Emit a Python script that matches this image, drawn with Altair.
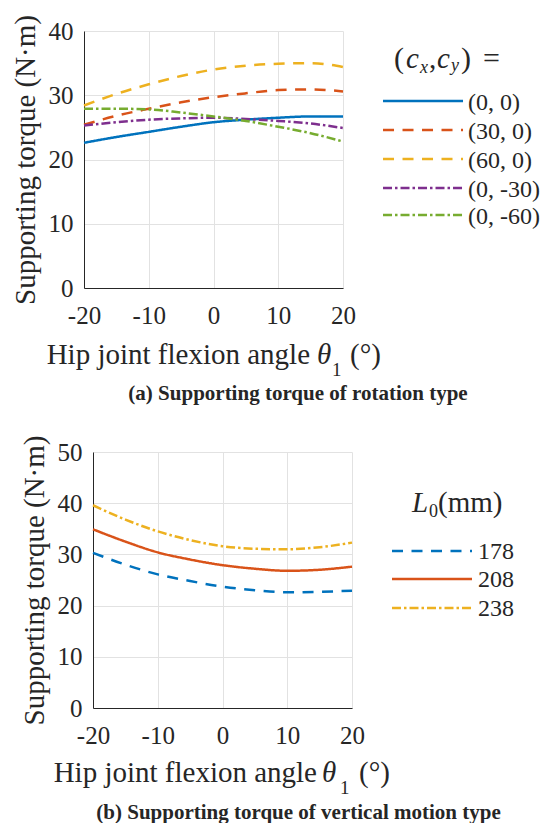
import altair as alt
import pandas as pd

# ---------------- data ----------------
angles = [-20, -15, -10, -5, 0, 5, 10, 15, 20]

rot_names = ["(0, 0)", "(30, 0)", "(60, 0)", "(0, -30)", "(0, -60)"]
rot_00 = [22.6, 23.5, 24.3, 25.1, 25.8, 26.2, 26.5, 26.7, 26.7]
rot_30_0 = [25.4, 26.8, 27.9, 28.9, 29.7, 30.3, 30.8, 30.9, 30.6]
rot_60_0 = [28.4, 30.2, 31.7, 33.0, 34.0, 34.6, 34.9, 35.0, 34.4]
rot_0_m30 = [25.3, 25.8, 26.2, 26.4, 26.5, 26.3, 26.0, 25.6, 24.9]
rot_0_m60 = [27.9, 27.9, 27.8, 27.3, 26.7, 26.0, 25.1, 24.1, 22.8]
rot_series = [rot_00, rot_30_0, rot_60_0, rot_0_m30, rot_0_m60]

vert_names = ["178", "208", "238"]
vert_178 = [30.3, 28.0, 26.1, 24.8, 23.7, 23.0, 22.6, 22.7, 22.9]
vert_208 = [34.9, 32.5, 30.4, 29.0, 27.9, 27.2, 26.8, 27.0, 27.6]
vert_238 = [39.6, 36.8, 34.5, 32.8, 31.6, 31.1, 31.0, 31.4, 32.3]
vert_series = [vert_178, vert_208, vert_238]

x_ticks = [-20, -10, 0, 10, 20]
y_ticks_a = [0, 10, 20, 30, 40]
y_ticks_b = [0, 10, 20, 30, 40, 50]

# ---------------- styles ----------------
FONT = "'Liberation Serif', 'Times New Roman', 'DejaVu Serif', serif"
TXT = "#262626"
BLUE, ORANGE, YELLOW, PURPLE, GREEN = "#0072BD", "#D95319", "#EDB120", "#7E2F8E", "#77AC30"
SOLID = [1, 0]
DASH = [11, 8.5]
DASHDOT = [9, 3, 2.5, 3]

rot_colors = [BLUE, ORANGE, YELLOW, PURPLE, GREEN]
rot_dashes = [SOLID, DASH, DASH, DASHDOT, DASHDOT]
vert_colors = [BLUE, ORANGE, YELLOW]
vert_dashes = [DASH, SOLID, DASHDOT]

W, H = 259, 257
LW = 2.5


def long_df(names, series):
    rows = []
    for n, vals in zip(names, series):
        for a, v in zip(angles, vals):
            rows.append({"angle": a, "torque": v, "series": n})
    return pd.DataFrame(rows)


def txt(text, x, y, size, style="normal", weight="normal", align="left", baseline="alphabetic"):
    return alt.Chart(pd.DataFrame({"t": [text]})).mark_text(
        text=text, font=FONT, fontSize=size, fontStyle=style, fontWeight=weight,
        align=align, baseline=baseline, color=TXT
    ).encode(x=alt.value(x), y=alt.value(y))


def legend_rule(color, dash, x1, x2, y):
    kw = dict(strokeWidth=LW, color=color)
    if dash is not SOLID:
        kw["strokeDash"] = dash
    return alt.Chart(pd.DataFrame({"s": [0]})).mark_rule(**kw).encode(
        x=alt.value(x1), x2=alt.value(x2), y=alt.value(y)
    )


def lines(df, names, colors, dashes, ymax, yticks):
    return alt.Chart(df).mark_line(strokeWidth=LW, interpolate="monotone").encode(
        x=alt.X("angle:Q", scale=alt.Scale(domain=[-20, 20], nice=False),
                axis=alt.Axis(values=x_ticks, title=None, labelExpr="'' + datum.value",
                              labelPadding=15, labelFlush=False)),
        y=alt.Y("torque:Q", scale=alt.Scale(domain=[0, ymax], nice=False),
                axis=alt.Axis(values=yticks, title="Supporting torque (N·m)",
                              labelPadding=11, titlePadding=8, labelFlush=False)),
        color=alt.Color("series:N", scale=alt.Scale(domain=names, range=colors), legend=None),
        strokeDash=alt.StrokeDash("series:N", scale=alt.Scale(domain=names, range=dashes), legend=None),
        detail="series:N",
    )


def xtitle(base_right, theta_x, sub_x, deg_x, baseline, sub_baseline):
    return [
        txt("Hip joint flexion angle", base_right, baseline, 29, align="right"),
        txt("θ", theta_x, baseline, 29, style="italic"),
        txt("1", sub_x, sub_baseline, 19),
        txt("(°)", deg_x, baseline, 29),
    ]


# ---------------- panel (a) ----------------
df_a = long_df(rot_names, rot_series)
layers_a = [lines(df_a, rot_names, rot_colors, rot_dashes, 40, y_ticks_a)]
layers_a += xtitle(226, 233, 248, 266, 333, 345)
layers_a += [
    txt("(", 310, 37, 30), txt("c", 322, 37, 29, style="italic"),
    txt("x", 336, 41.5, 18, style="italic"), txt(",", 345, 37, 29),
    txt("c", 353, 37, 29, style="italic"), txt("y", 367, 40, 18, style="italic"),
    txt(")", 377, 37, 30), txt("=", 399, 37, 30),
]
leg_y_a = [70, 99, 128, 157, 184]
for name, c, d, yy in zip(rot_names, rot_colors, rot_dashes, leg_y_a):
    layers_a.append(legend_rule(c, d, 299, 379, yy))
    layers_a.append(txt(name, 384, yy + 2, 24, baseline="middle"))
layers_a.append(txt("(a) Supporting torque of rotation type", 214, 369, 21, weight="bold", align="center"))
panel_a = alt.layer(*layers_a).properties(width=W, height=H)

# ---------------- panel (b) ----------------
df_b = long_df(vert_names, vert_series)
layers_b = [lines(df_b, vert_names, vert_colors, vert_dashes, 50, y_ticks_b)]
layers_b += xtitle(224, 229, 247, 266, 330, 342)
layers_b += [
    txt("L", 319, 60, 29, style="italic"), txt("0", 336, 65, 18), txt("(mm)", 345, 60, 29),
]
leg_y_b = [99, 127, 156]
for name, c, d, yy in zip(vert_names, vert_colors, vert_dashes, leg_y_b):
    layers_b.append(legend_rule(c, d, 299, 379, yy))
    layers_b.append(txt(name, 385, yy + 1, 24, baseline="middle"))
layers_b.append(txt("(b) Supporting torque of vertical motion type", 205.5, 367, 21, weight="bold", align="center"))
# invisible spacer used only to centre panel (b) under panel (a)
layers_b.append(alt.Chart(pd.DataFrame({"s": [0]})).mark_rule(opacity=0).encode(
    x=alt.value(0), x2=alt.value(438), y=alt.value(0)))
panel_b = alt.layer(*layers_b).properties(width=W, height=256)

chart = alt.vconcat(panel_a, panel_b, spacing=31, center=True).resolve_scale(
    color="independent", strokeDash="independent"
).properties(
    padding={"left": 11, "top": 14, "right": 0, "bottom": 0}
).configure_view(stroke=None).configure_axis(
    domainColor=TXT, domainWidth=1, grid=True, gridColor="#e2e2e2", gridWidth=1,
    ticks=False, labelFont=FONT, labelFontSize=25, labelColor=TXT,
    titleFont=FONT, titleFontSize=29, titleFontWeight="normal", titleColor=TXT,
)

chart.save("out.html", embed_options={"renderer": "svg", "actions": False})
